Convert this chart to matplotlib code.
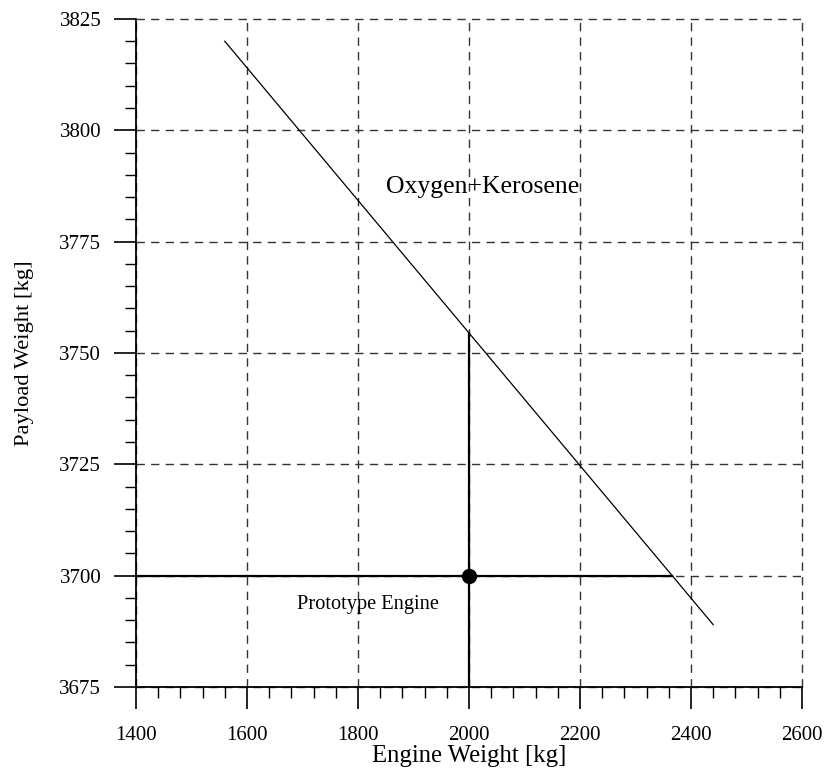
import numpy as np
import matplotlib
matplotlib.use("Agg")
import matplotlib.pyplot as plt
from matplotlib.ticker import MultipleLocator

plt.rcParams['font.family'] = ['Liberation Serif', 'DejaVu Serif']

# trade-off line
engine_w = [1560, 2440]
payload_w = [3820, 3689]

# prototype design point
proto_x = 2000
proto_y = 3700

xticks = [1400, 1600, 1800, 2000, 2200, 2400, 2600]
yticks = [3675, 3700, 3725, 3750, 3775, 3800, 3825]

fig = plt.figure(figsize=(8.26, 7.71), dpi=100)
ax = fig.add_axes([0.1646, 0.109, 0.9709 - 0.1646, 0.9754 - 0.109])

ax.set_xlim(xticks[0], xticks[-1])
ax.set_ylim(yticks[0], yticks[-1])
ax.set_xticks(xticks)
ax.set_yticks(yticks)
ax.xaxis.set_minor_locator(MultipleLocator(40))
ax.yaxis.set_minor_locator(MultipleLocator(5))

ax.grid(True, which='major', color='0.2', linestyle=(0, (6, 4.5)), linewidth=1.0)
for gl in ax.get_xgridlines() + ax.get_ygridlines():
    gl.set_clip_on(False)
ax.set_axisbelow(True)

for s in ['top', 'right']:
    ax.spines[s].set_visible(False)
for s in ['left', 'bottom']:
    ax.spines[s].set_linewidth(1.3)

ax.tick_params(which='major', direction='out', length=16, width=1.2, labelsize=15)
ax.tick_params(axis='x', which='major', pad=12)
ax.tick_params(axis='y', which='major', pad=9)
ax.tick_params(which='minor', direction='out', length=8, width=1.0)

# line of the engine / payload trade-off
ax.plot(engine_w, payload_w, color='black', linewidth=0.9)

# where the prototype crosses the line
slope = (payload_w[1] - payload_w[0]) / (engine_w[1] - engine_w[0])
y_at_proto = payload_w[0] + slope * (proto_x - engine_w[0])
x_at_proto = engine_w[0] + (proto_y - payload_w[0]) / slope
ax.plot([proto_x, proto_x], [yticks[0], y_at_proto], color='black', linewidth=1.6)
ax.plot([xticks[0], x_at_proto], [proto_y, proto_y], color='black', linewidth=1.6)
ax.plot(proto_x, proto_y, 'o', color='black', markersize=10, zorder=5)

ax.text(2025, 3787.2, 'Oxygen+Kerosene', fontsize=18.5, ha='center', va='center')
ax.text(1818, 3693.6, 'Prototype Engine', fontsize=14.7, ha='center', va='center')

ax.set_xlabel('Engine Weight [kg]', fontsize=17.8, labelpad=0)
ax.set_ylabel('Payload Weight [kg]', fontsize=16.2, labelpad=18)

fig.savefig('out.png', dpi=100)
